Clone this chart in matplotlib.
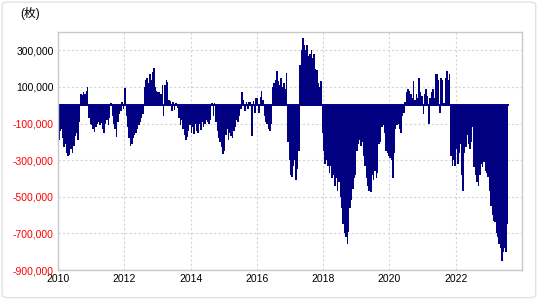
import numpy as np
import pandas as pd
import matplotlib
matplotlib.use('Agg')
import matplotlib.pyplot as plt
from matplotlib.patches import FancyBboxPatch

plt.rcParams['font.family'] = ['Liberation Sans', 'Noto Sans CJK JP', 'DejaVu Sans']

# net position (thousand contracts), semi-monthly readings from the chart
v2010 = [-190, -140, -130, -180, -230, -210, -260, -275, -270, -240, -260, -220,
         -170, -150, -190, -90, 60, 55, 70, 60, 80, 97, -70, -100]
v2011 = [-110, -130, -145, -120, -100, -90, -110, -95, -130, -150, -100, -80,
         -110, -70, 10, -60, -100, -130, -175, -90, -50, -30, 15, -20]
v2012 = [95, -60, -120, -180, -220, -210, -180, -160, -150, -130, -110, -90,
         -70, -50, 100, 140, 150, 120, 170, 140, 180, 205, 100, 80]
v2013 = [70, 75, 60, 110, -60, 110, 140, 125, 30, 25, -30, 15,
         -25, 10, -15, -70, -110, -80, -130, -160, -190, -175, -140, -110]
v2014 = [-150, -120, -155, -100, -140, -150, -100, -135, -90, -120, -100, -80,
         -90, -100, -80, 10, -60, 12, -90, -140, -180, -200, -230, -265]
v2015 = [-250, -160, -130, -190, -150, -170, -180, -140, -120, -80, -90, -60,
         -20, 70, 30, -30, 20, -20, 20, 15, -170, 25, -40, 40]
v2016 = [40, -40, 45, 80, 30, -60, -90, -100, -130, -140, -100, 100,
         120, 140, 185, 130, 110, 150, 100, 120, 90, 175, -200, -300]
v2017 = [-380, -390, -330, -300, -410, -350, -250, 220, 300, 365, 330, 300,
         330, 270, 280, 300, 260, 280, 200, 190, 120, 100, 130, -150]
v2018 = [-250, -320, -300, -330, -370, -330, -400, -380, -440, -400, -470, -420,
         -500, -560, -650, -700, -720, -760, -690, -560, -520, -460, -400, -380]
v2019 = [-250, -210, -190, -220, -200, -280, -330, -400, -440, -470, -475, -380,
         -410, -360, -400, -370, -210, -200, -120, -110, -150, -250, -260, -280]
v2020 = [-290, -300, -400, -260, -130, -110, -100, -130, -150, -60, -40, 20,
         70, 90, 80, 60, 40, 135, 30, 60, 40, 150, 70, 50]
v2021 = [-50, 60, 90, 50, -100, 40, 70, 90, 40, 170, 170, 140,
         -45, 150, 140, 10, 150, 185, 140, 170, -280, -330, -300, -330]
v2022 = [-240, -320, -260, -210, -380, -470, -260, -230, -160, -210, -240, -200,
         -120, -340, -380, -420, -440, -380, -320, -340, -310, -360, -370, -390]
v2023 = [-470, -550, -600, -630, -640, -700, -720, -760, -780, -850, -800, -780,
         -800, -650]

values = np.array(v2010 + v2011 + v2012 + v2013 + v2014 + v2015 + v2016 +
                  v2017 + v2018 + v2019 + v2020 + v2021 + v2022 + v2023) * 1000
dates = pd.date_range('2010-01-01', periods=len(values), freq='SMS')

y_ticks = [300000, 100000, -100000, -300000, -500000, -700000, -900000]
x_years = [2010, 2012, 2014, 2016, 2018, 2020, 2022]

fig = plt.figure(figsize=(5.4, 3.0), dpi=100)
ax = fig.add_axes([0.1074, 0.10, 0.8593, 0.7933])

ax.bar(dates, values, width=17, align='edge', color='#000080', linewidth=0)
ax.plot([dates[0], dates[-1] + pd.Timedelta(days=15)], [0, 0], color='#000080', lw=1.4)

ax.set_xlim(pd.Timestamp('2010-01-01'), pd.Timestamp('2024-01-01'))
ax.set_ylim(-900000, 400000)
ax.set_yticks(y_ticks)
ax.set_yticklabels(['{:,.0f}'.format(v) for v in y_ticks], fontsize=7.5)
for lab, v in zip(ax.get_yticklabels(), y_ticks):
    lab.set_color('black' if v > 0 else 'red')
ax.set_xticks([pd.Timestamp(f'{y}-01-01') for y in x_years])
ax.set_xticklabels([str(y) for y in x_years], fontsize=7.5)
ax.tick_params(length=0, pad=3)

ax.grid(True, color='#d4d4d4', linestyle=(0, (2, 2)), linewidth=0.8)
ax.set_axisbelow(True)
for s in ax.spines.values():
    s.set_color('#c8c8c8')
    s.set_linewidth(1.0)

fig.text(0.037, 0.955, '(枚)', fontsize=8.5, ha='left', va='center')

frame = FancyBboxPatch((0.004, 0.008), 0.988, 0.985, boxstyle='round,pad=0,rounding_size=0.01',
                       transform=fig.transFigure, fill=False, edgecolor='#e2e2e2', lw=1.0)
fig.patches.append(frame)

plt.savefig('out.png', dpi=100)
